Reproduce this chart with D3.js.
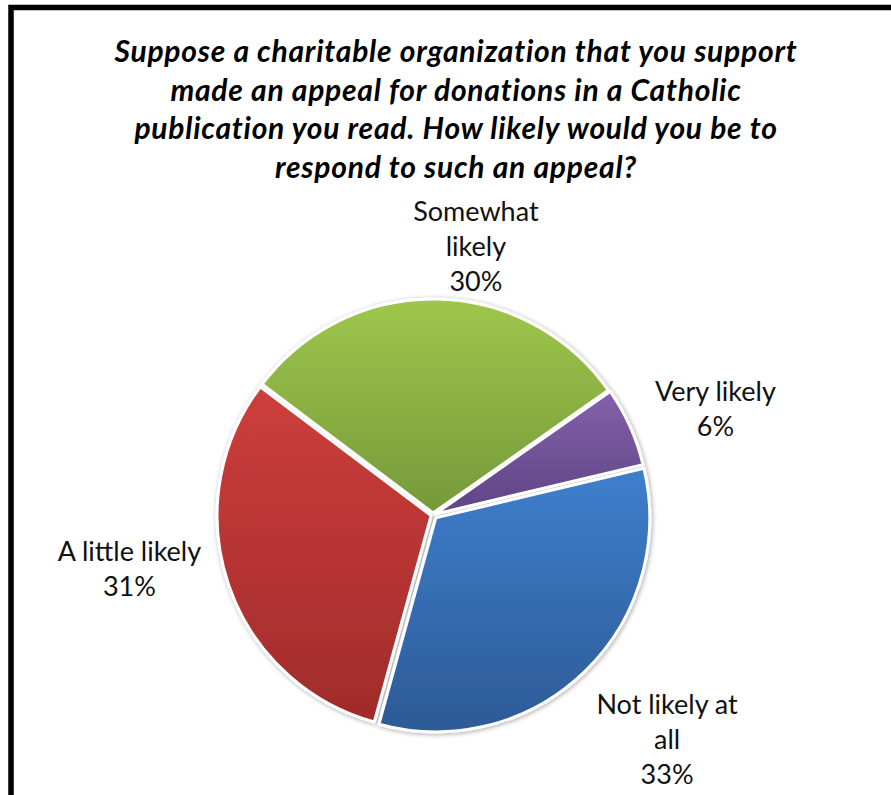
<!DOCTYPE html>
<html>
<head>
<meta charset="utf-8">
<script src="https://cdn.jsdelivr.net/npm/d3@7"></script>
<style>
  html, body { margin: 0; padding: 0; background: #ffffff; }
  svg { display: block; }
</style>
</head>
<body>
<script>
// ---- data ----
const titleLines = [
  "Suppose a charitable organization that you support",
  "made an appeal for donations in a Catholic",
  "publication you read. How likely would you be to",
  "respond to such an appeal?"
];
const categories = ["Very likely", "Not likely at all", "A little likely", "Somewhat likely"];
const values = [6, 33, 31, 30];
const labelLines = [
  ["Very likely", "6%"],
  ["Not likely at", "all", "33%"],
  ["A little likely", "31%"],
  ["Somewhat", "likely", "30%"]
];
const colorsTop = ["#8461ab", "#3e7fcd", "#cd3e3b", "#9ec74b"];
const colorsBottom = ["#5e4484", "#2d5a96", "#a02b2b", "#76993a"];

// ---- layout ----
const W = 891, H = 795;
const cx = 433, cy = 515, R = 214;
const startDeg = 55;
const explode = [2, 4, 2, 2];
const labelGap = 14;
const labelNudge = [[14, 15], [25, 8], [-16, -44], [38, 12]];
const fontSize = 27, lineH = 35, capH = 19;
const titleWidth = 682;

const svg = d3.select("body").append("svg").attr("width", W).attr("height", H);
const defs = svg.append("defs");

const shadow = defs.append("filter").attr("id", "sh").attr("x", "-20%").attr("y", "-20%").attr("width", "140%").attr("height", "140%");
shadow.append("feGaussianBlur").attr("in", "SourceAlpha").attr("stdDeviation", 2.5).attr("result", "b");
shadow.append("feOffset").attr("in", "b").attr("dx", 1).attr("dy", 1).attr("result", "o");
shadow.append("feComponentTransfer").attr("in", "o").attr("result", "o2")
  .append("feFuncA").attr("type", "linear").attr("slope", 0.35);
const m = shadow.append("feMerge");
m.append("feMergeNode").attr("in", "o2");
m.append("feMergeNode").attr("in", "SourceGraphic");

categories.forEach((c, i) => {
  const g = defs.append("linearGradient").attr("id", "g" + i)
    .attr("x1", 0).attr("y1", 0).attr("x2", 0).attr("y2", 1);
  g.append("stop").attr("offset", "0%").attr("stop-color", colorsTop[i]);
  g.append("stop").attr("offset", "100%").attr("stop-color", colorsBottom[i]);
});

// frame
svg.append("rect").attr("x", 11).attr("y", 7.5).attr("width", 1000).attr("height", 1000)
  .attr("fill", "none").attr("stroke", "#000").attr("stroke-width", 5.5);

// title
const title = svg.append("text").attr("text-anchor", "middle")
  .attr("font-family", "Lato, 'Open Sans', sans-serif")
  .attr("font-weight", "bold").attr("font-style", "italic")
  .attr("font-size", 30).attr("letter-spacing", 0).attr("fill", "#000");
titleLines.forEach((t, i) => {
  title.append("tspan").attr("x", 456).attr("y", 62 + i * 38.5).text(t);
});
{
  const first = title.select("tspan").node();
  const w0 = first.getComputedTextLength();
  const ls = (titleWidth - w0) / (titleLines[0].length - 1);
  title.attr("letter-spacing", Math.max(0, Math.min(1.2, ls)));
}

// pie
const pie = d3.pie().sort(null).value(d => d)
  .startAngle(startDeg * Math.PI / 180)
  .endAngle(startDeg * Math.PI / 180 + 2 * Math.PI);
const arcs = pie(values);
const arc = d3.arc().innerRadius(0).outerRadius(R);

const pg = svg.append("g").attr("transform", `translate(${cx},${cy})`).attr("filter", "url(#sh)");
pg.selectAll("path").data(arcs).join("path")
  .attr("transform", (d, i) => {
    const a = (d.startAngle + d.endAngle) / 2;
    return `translate(${Math.sin(a) * explode[i]},${-Math.cos(a) * explode[i]})`;
  })
  .attr("d", arc)
  .attr("fill", (d, i) => `url(#g${i})`)
  .attr("stroke", "#ffffff").attr("stroke-width", 3).attr("stroke-linejoin", "round");

// labels
const lg = svg.append("g").attr("font-family", "Lato, 'Open Sans', sans-serif")
  .attr("font-size", fontSize).attr("fill", "#111").attr("text-anchor", "middle");
arcs.forEach((d, i) => {
  const a = (d.startAngle + d.endAngle) / 2;
  const ux = Math.sin(a), uy = -Math.cos(a);
  const t = lg.append("text");
  labelLines[i].forEach((s) => t.append("tspan").text(s));
  let w = 0;
  t.selectAll("tspan").each(function () { w = Math.max(w, this.getComputedTextLength()); });
  const h = labelLines[i].length * lineH;
  const ext = Math.min(Math.abs(ux) > 1e-6 ? (w / 2) / Math.abs(ux) : 1e9,
                       Math.abs(uy) > 1e-6 ? (h / 2) / Math.abs(uy) : 1e9);
  const dist = R + labelGap + ext;
  const lx = cx + ux * dist + labelNudge[i][0];
  const ly = cy + uy * dist + labelNudge[i][1];
  const n = labelLines[i].length;
  t.selectAll("tspan")
    .attr("x", lx)
    .attr("y", (s, k) => ly - (n - 1) * lineH / 2 + capH / 2 + k * lineH);
});
</script>
</body>
</html>
